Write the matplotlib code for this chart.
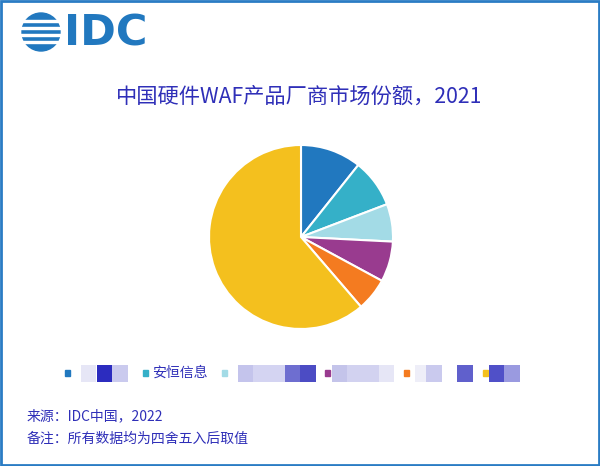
import matplotlib
matplotlib.use("Agg")
import matplotlib.pyplot as plt
from matplotlib.patches import Rectangle, Circle

plt.rcParams['font.family'] = ['Noto Sans CJK SC', 'DejaVu Sans']

# Data (vendor names other than 安恒信息 are masked in the source image)
shares = [10.7, 8.5, 6.6, 7.1, 5.8, 61.3]
colors = ["#2178bf", "#35b0c8", "#a3dbe6", "#993b8f", "#f47b20", "#f4c01e"]
labels = ["", "安恒信息", "", "", "", ""]

title = "中国硬件WAF产品厂商市场份额，2021"
source = "来源：IDC中国，2022"
note = "备注：所有数据均为四舍五入后取值"

text_color = "#2f2fb8"
W, H = 600, 466

fig = plt.figure(figsize=(W / 100, H / 100), dpi=100)
fig.patch.set_facecolor("white")

# pixel-coordinate overlay for logo, texts, legend
bg = fig.add_axes([0, 0, 1, 1])
bg.set_xlim(0, W)
bg.set_ylim(H, 0)
bg.axis("off")

# border
bg.add_patch(Rectangle((1, 1), W - 2.5, H - 2.5, fill=False, ec="#2a7cc4", lw=2))

# IDC logo: striped globe + letters
globe_c = (41, 32)
bg.add_patch(Circle(globe_c, 19, color="#2178bf"))
for y in [19.5, 26.5, 33.5, 40.5]:
    bg.add_patch(Rectangle((20, y), 42, 2.2, color="white"))
bg.text(64, 33, "IDC", fontsize=31, fontweight="bold", color="#2178bf",
        family="DejaVu Sans", va="center", ha="left")

# title
bg.text(299, 97, title, fontsize=15.3, color=text_color, ha="center", va="center")

# footer
bg.text(27, 416, source, fontsize=10, color=text_color, ha="left", va="center")
bg.text(27, 439, note, fontsize=10, color=text_color, ha="left", va="center")

# pie
cx, cy, r = 301, 237, 92
ax = fig.add_axes([(cx - r) / W, (H - cy - r) / H, 2 * r / W, 2 * r / H])
ax.pie(shares, colors=colors, startangle=90, counterclock=False,
       wedgeprops=dict(edgecolor="white", linewidth=1.5))
ax.set_xlim(-1, 1)
ax.set_ylim(-1, 1)
ax.set_aspect("equal")

# legend: markers, label text, masked name blocks
marker_x = [65, 143, 222, 325, 404, 483]
ly = 373
for mx, c, lab in zip(marker_x, colors, labels):
    bg.add_patch(Rectangle((mx, ly - 3), 5, 6, color=c))
    if lab:
        bg.text(mx + 9, ly, lab, fontsize=10, color=text_color, ha="left", va="center")

mosaic = [
    (80.7, "#e6e6f6"), (96.7, "#2c2cbf"), (112.3, "#cacaee"),
    (237.7, "#c4c4ec"), (253.3, "#d4d4f2"), (269, "#d4d4f2"), (284.7, "#6e6ed0"), (300.3, "#4c4cc4"),
    (331.7, "#c4c4ea"), (347.3, "#d2d2f0"), (363, "#d2d2f0"), (378.7, "#e6e6f6"),
    (415, "#eeeef8"), (426, "#cacaee"), (457.3, "#6060cc"),
    (488.7, "#5050c8"), (504.3, "#9a9ae0"),
]
for x0, c in mosaic:
    bg.add_patch(Rectangle((x0, ly - 8.5), 15.7, 17, color=c, lw=0))

fig.savefig("out.png", dpi=100, facecolor="white")
